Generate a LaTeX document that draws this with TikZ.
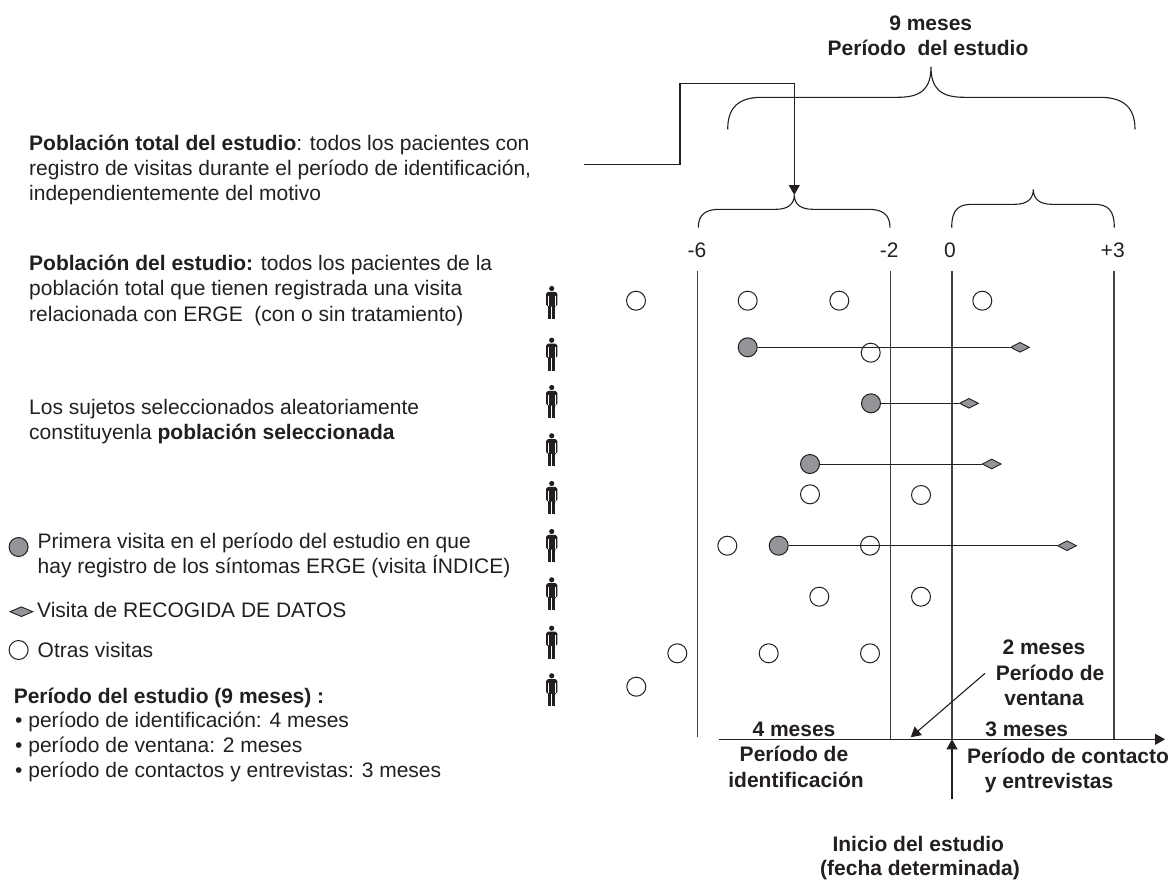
\documentclass[tikz,border=0pt]{standalone}
\usepackage{fontspec}
\setmainfont{Liberation Sans}
\usetikzlibrary{arrows.meta,shapes.geometric}
\definecolor{dotgray}{HTML}{939598}
\definecolor{ink}{HTML}{231F20}
\begin{document}
\begin{tikzpicture}[x=1pt,y=-1pt,
  txt/.style={font=\fontsize{21}{25}\selectfont, anchor=base west, inner sep=0, text=ink},
  btxt/.style={txt, font=\fontsize{21}{25}\selectfont\bfseries},
  lbl/.style={font=\fontsize{21}{25}\selectfont\bfseries, anchor=base, inner sep=0, text=ink},
  num/.style={font=\fontsize{21}{25}\selectfont, anchor=base, inner sep=0, text=ink},
  other/.style={circle, draw=ink, line width=1pt, fill=white, minimum size=19pt, inner sep=0},
  idx/.style={circle, draw=ink, line width=1pt, fill=dotgray, minimum size=19pt, inner sep=0},
  dat/.style={diamond, draw=ink, line width=0.9pt, fill=dotgray, minimum width=19pt, minimum height=10pt, inner sep=0},
  vline/.style={line width=1.2pt, draw=ink!85},
  brace/.style={line width=1.1pt, draw=ink},
  conn/.style={line width=1.1pt, draw=ink},
  tip/.style={-{Triangle[length=10pt,width=11pt]}},
  personicon/.pic={
    \fill[ink] (0,-14) circle[radius=2.6];
    \fill[ink, rounded corners=1.8pt] (-5.6,-10.6) rectangle (5.6,4);
    \draw[white, line width=0.8pt] (-3.2,-6.8) -- (-3.2,3.6) (3.2,-6.8) -- (3.2,3.6);
    \fill[ink] (-3.3,3) rectangle (-0.45,16.5);
    \fill[ink] (0.45,3) rectangle (3.3,16.5);
  }
]
\useasboundingbox (0,0) rectangle (1173,879);

% ---------- top labels and braces ----------
\node[lbl] (t9) at (930.7,30.7) {9 meses};
\node[lbl] (tper) at (928,55) {Período\ \ del estudio};

\coordinate (bigtip) at (931,66.7);
\coordinate (lbtip) at (794.3,195);
\coordinate (rbtip) at (1033.3,189.3);

\draw[brace] (727.7,129.3) .. controls (727.7,108) and (738,97.3) .. (762,97.3) -- (898,97.3)
  .. controls (922,97.3) and (931,88) .. (bigtip)
  .. controls (931,88) and (940,97.3) .. (964,97.3) -- (1100,97.3)
  .. controls (1124,97.3) and (1135,108) .. (1135,129.3);

\draw[brace] (698.3,227.7) .. controls (698.3,214) and (706,209.3) .. (720,209.3) -- (776,209.3)
  .. controls (788,209.3) and (794.3,204) .. (lbtip)
  .. controls (794.3,204) and (800.6,209.3) .. (812.6,209.3) -- (868,209.3)
  .. controls (882,209.3) and (890,214) .. (890,227.7);

\draw[brace] (951.7,227.7) .. controls (951.7,210) and (958,204.3) .. (972,204.3) -- (1015,204.3)
  .. controls (1027,204.3) and (1033.3,199) .. (rbtip)
  .. controls (1033.3,199) and (1039.6,204.3) .. (1051.6,204.3) -- (1094,204.3)
  .. controls (1108,204.3) and (1114.3,210) .. (1114.3,227.7);

\coordinate (cstart) at (584,164.3);
\coordinate (cup) at (680,83.3);
\draw[conn,tip] (cstart) -| (cup) -| (lbtip);

\node[num] (n6) at (697,257.5) {-6};
\node[num] (n2) at (889.3,257.5) {-2};
\node[num] (n0) at (950,257.5) {0};
\node[num] (n3) at (1112.7,257.5) {+3};

% ---------- vertical lines ----------
\coordinate (v6t) at (697.7,270.7); \coordinate (v6b) at (697.7,737);
\coordinate (v2t) at (890.7,270.7); \coordinate (v2b) at (890.7,739.3);
\coordinate (v0t) at (952,270.7);   \coordinate (v0b) at (952,739.3);
\coordinate (v3t) at (1114,270.7);  \coordinate (v3b) at (1114,739.3);
\draw[vline] (v6t) -- (v6b);
\draw[vline] (v2t) -- (v2b);
\draw[vline] (v0t) -- (v0b);
\draw[vline] (v3t) -- (v3b);

% ---------- axis ----------
\coordinate (axs) at (719.3,739.3);
\coordinate (axe) at (1165,739.3);
\draw[conn,tip] (axs) -- (axe);
\coordinate (inis) at (952,799.3);
\draw[conn,tip] (inis) -- (v0b);
\coordinate (wins) at (985,673.3);
\coordinate (wine) at (910.7,737.3);
\draw[conn,tip] (wins) -- (wine);

% ---------- persons ----------
\pic (p1) at (551.7,302.5) {personicon};
\pic (p2) at (551.7,354.2) {personicon};
\pic (p3) at (551.7,401.5) {personicon};
\pic (p4) at (551.7,449.8) {personicon};
\pic (p5) at (551.7,497.5) {personicon};
\pic (p6) at (551.7,545.5) {personicon};
\pic (p7) at (551.7,593.8) {personicon};
\pic (p8) at (551.7,642.2) {personicon};
\pic (p9) at (551.7,689.8) {personicon};

% ---------- visits ----------
\node[other] (o11) at (636,300.7) {};
\node[other] (o12) at (747.7,300.7) {};
\node[other] (o13) at (839.3,300.7) {};
\node[other] (o14) at (982.3,300.7) {};

\node[other] (o21) at (870.7,352.7) {};
\node[idx] (g2) at (747.7,347.3) {};
\node[dat] (d2) at (1020,347.3) {};

\node[idx] (g3) at (871,403.3) {};
\node[dat] (d3) at (969,403.3) {};

\node[idx] (g4) at (810,464) {};
\node[dat] (d4) at (991.7,464) {};

\node[other] (o51) at (810,494.3) {};
\node[other] (o52) at (921,495) {};

\node[other] (o61) at (727.3,545.7) {};
\node[other] (o62) at (870,545.7) {};
\node[idx] (g6) at (778.7,545.7) {};
\node[dat] (d6) at (1067,545.7) {};

\node[other] (o71) at (819.3,596.7) {};
\node[other] (o72) at (921,596.7) {};

\node[other] (o81) at (677.3,653.3) {};
\node[other] (o82) at (768.7,653.3) {};
\node[other] (o83) at (870,653.3) {};

\node[other] (o91) at (636.3,686.7) {};

\draw[conn, line width=1pt] (g2) -- (d2);
\draw[conn, line width=1pt] (g3) -- (d3);
\draw[conn, line width=1pt] (g4) -- (d4);
\draw[conn, line width=1pt] (g6) -- (d6);

% ---------- bottom labels ----------
\node[lbl] (m4) at (794,736.7) {4 meses};
\node[lbl] (pi1) at (794,761.7) {Período de};
\node[lbl] (pi2) at (796,787) {identificación};
\node[lbl] (m2) at (1044,654) {2 meses};
\node[lbl] (pv1) at (1050,680) {Período de};
\node[lbl] (pv2) at (1044,705) {ventana};
\node[lbl] (m3) at (1026.7,736.7) {3 meses};
\node[lbl] (pc1) at (1068,763) {Período de contacto};
\node[lbl] (pc2) at (1049,788) {y entrevistas};
\node[lbl] (in1) at (918.3,851.7) {Inicio del estudio};
\node[lbl] (in2) at (920,875) {(fecha determinada)};

% ---------- left texts ----------
\node[txt] (a1) at (29,150) {\textbf{Población total del estudio}: todos los pacientes con};
\node[txt] (a2) at (29,175) {registro de visitas durante el período de identificación,};
\node[txt] (a3) at (29,200) {independientemente del motivo};
\node[txt] (b1) at (29,270) {\textbf{Población del estudio:} todos los pacientes de la};
\node[txt] (b2) at (29,295.5) {población total que tienen registrada una visita};
\node[txt] (b3) at (29,321) {relacionada con ERGE\ \ (con o sin tratamiento)};
\node[txt] (c1) at (29,414) {Los sujetos seleccionados aleatoriamente};
\node[txt] (c2) at (29,439) {constituyenla \textbf{población seleccionada}};

% ---------- legend ----------
\node[idx] (lgidx) at (18.6,547) {};
\node[txt] (l1) at (37.5,548) {Primera visita en el período del estudio en que};
\node[txt] (l2) at (37.5,573) {hay registro de los síntomas ERGE (visita ÍNDICE)};
\node[dat, minimum width=23pt] (lgdat) at (21.4,611.7) {};
\node[txt] (l3) at (37,617) {Visita de RECOGIDA DE DATOS};
\node[other] (lgoth) at (18.6,650) {};
\node[txt] (l4) at (37.5,657) {Otras visitas};
\node[btxt] (q0) at (13.6,703) {Período del estudio (9 meses) :};
\node[txt] (q1) at (15,727.5) {• período de identificación: 4 meses};
\node[txt] (q2) at (15,752.5) {• período de ventana: 2 meses};
\node[txt] (q3) at (15,777.5) {• período de contactos y entrevistas: 3 meses};
\end{tikzpicture}
\end{document}
